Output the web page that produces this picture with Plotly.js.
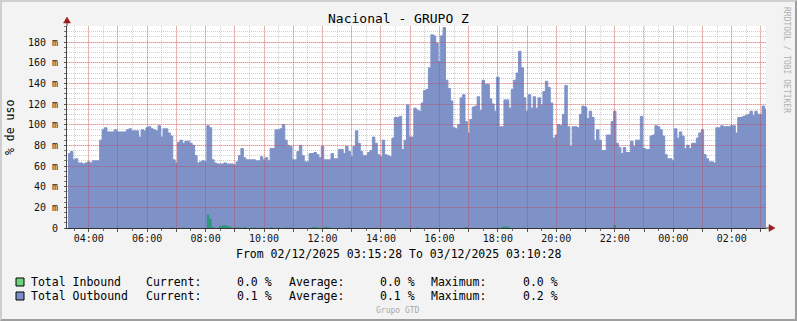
<!DOCTYPE html>
<html><head><meta charset="utf-8">
<script src="https://cdn.plot.ly/plotly-3.0.1.min.js"></script>
<style>
html,body{margin:0;padding:0;background:#f3f3f3;}
#wrap{position:relative;width:797px;height:321px;overflow:hidden;}
#chart{position:absolute;left:0;top:0;width:797px;height:321px;}
#frame{position:absolute;left:0;top:0;width:797px;height:321px;box-sizing:border-box;border:2px solid;border-color:#cfcfcf #9e9e9e #9e9e9e #cfcfcf;pointer-events:none;}
</style></head><body>
<div id="wrap"><div id="chart"></div><div id="frame"></div></div>
<script>
// ---------- data (5-minute samples, 02/12/2025 03:20 -> 03/12/2025 03:10), values in milli-% ----------
const chartTitle = 'Nacional - GRUPO Z';
const yAxisTitle = '% de uso';
const periodText = 'From 02/12/2025 03:15:28 To 03/12/2025 03:10:28';
const seriesNames = ['Total Inbound', 'Total Outbound'];
const currentVals = ['0.0 %', '0.1 %'];
const averageVals = ['0.0 %', '0.1 %'];
const maximumVals = ['0.0 %', '0.2 %'];
const watermark = 'RRDTOOL / TOBI OETIKER';
const footer = 'Grupo GTD';

const outbound = [
  72,74,66,67,63,63,62,63,                              // 03:20-03:55
  64,63,65,65,65,85,95,97,93,93,93,95,                  // 04
  93,93,93,93,95,96,94,94,94,88,95,94,                  // 05
  97,98,96,95,94,99,88,96,96,92,89,66,                  // 06
  63,83,85,82,84,84,82,80,70,63,64,65,                  // 07
  64,99,97,66,63,62,62,62,63,62,62,62,                  // 08
  61,64,70,77,68,66,66,66,66,65,65,69,                  // 09
  66,68,65,77,77,95,95,96,100,85,80,79,                 // 10
  66,66,74,80,70,64,64,72,72,73,71,68,                  // 11
  79,66,66,66,72,67,67,76,76,72,79,74,                  // 12
  69,79,94,82,74,70,70,73,75,88,82,71,                  // 13
  69,85,71,70,69,87,107,107,108,76,85,119,              // 14
  88,88,116,114,113,121,133,134,155,187,186,179,        // 15
  161,186,194,143,135,123,97,96,100,126,129,103,        // 16
  92,105,117,118,127,114,143,139,139,125,120,113,       // 17
  146,98,98,124,124,116,134,143,150,171,155,126,        // 18
  113,129,116,127,116,126,119,132,142,136,121,87,       // 19
  90,100,99,110,138,98,79,98,98,97,110,118,             // 20
  117,106,113,107,85,95,85,75,75,90,90,103,             // 21
  113,82,78,72,78,73,73,84,79,85,85,108,                // 22
  77,76,76,89,90,99,98,95,89,71,67,67,                  // 23
  65,96,87,93,89,77,80,77,82,82,87,92,                  // 00
  95,71,67,64,64,63,97,97,99,98,98,98,                  // 01
  99,99,92,107,107,108,109,110,113,109,113,110,         // 02
  110,118,115                                           // 03:00-03:10
];
const inbound = [
  0,0,0,0,0,0,0,0,
  0,0,0,0,0,0,0,0,0,0,0,0,
  0,0,0,0,0,0,0,0,0,0,0,0,
  0,0,0,0,0,0,0,0,0,0,0.8,0,
  0,0,0,0.5,0,0,0,0,0,0,0,0,
  0,13,9,1,0,0,2,2.5,3,2,1.5,0,
  0.5,0.8,0.5,0,1,0,0,0,0.8,0,0,0.5,
  0,0,0,1,0,0,0.5,0,0,0.8,0,0.5,
  0,0,0,0,0,0,0,0,1,1,0.5,0,
  0,1,1,0.8,0,0,0,0,0,0,0,0.5,
  0,0,0,0,0,0,0,0,0,0,0,0,
  0,0,0,0,0,0,0,0,0,0,0,0,
  0,0,0,1,0,0,0,0,0,0,0,0,
  0,0,0,0,0,0,0,0,0,0,0,1,
  0,0,0,0,0,0,0,0,0,0,0,0,
  0,0,1.5,1.5,1.5,0,0,0,0,0,0,0,
  0,0,0,0,0,0,0,0,0,0,0,0,
  0,0,0,0,0,0,0,0,0,0,0,0,
  0,0,0,0,0,0,0,0,0,0,0,0,
  3,0,0,0,0,0,0,0,0,0,0,0,
  0,0,0,0,0,0,0,0,0,0,0,0,
  0,0,0,0,0,0,0,0,0,0,0,0,
  0,0,0,0,0,0,0,0,0,0,0,0,
  0,0,0,0,0,0,0,0,0,0,0,0,
  0,0,0
];
const yTickVals = [0,20,40,60,80,100,120,140,160,180];
const yTickText = ['0','20 m','40 m','60 m','80 m','100 m','120 m','140 m','160 m','180 m'];

// ---------- time axis ----------
const stepMs = 5*60*1000;
const firstSample = Date.UTC(2025,11,2,3,17,30);   // centre-aligned 5-min steps
const rangeStartMs = Date.UTC(2025,11,2,3,15,28);
const rangeEndMs = Date.UTC(2025,11,3,3,10,28);
const fmt = ms => new Date(ms).toISOString().replace('T',' ').slice(0,19);

const xs = outbound.map((_, i) => fmt(firstSample + i*stepMs));
xs.push(fmt(rangeEndMs));
const outY = outbound.concat([outbound[outbound.length-1]]);
const inY = inbound.concat([inbound[inbound.length-1]]);

const hourMs = [], hourVals = [], hourText = [];
for (let t = Date.UTC(2025,11,2,4); t <= rangeEndMs; t += 3600000) {
  hourMs.push(t);
  hourVals.push(fmt(t));
  const h = new Date(t).getUTCHours();
  hourText.push(h % 2 === 0 ? String(h).padStart(2,'0') + ':00' : '');
}
const xRange = [fmt(rangeStartMs), fmt(rangeEndMs)];
const yRange = [0, 195.5];

// ---------- geometry helpers ----------
const W = 797, H = 321, ML = 67, MR = 31, MT = 26, MB = 93;
const PW = W - ML - MR, PH = H - MT - MB;
const PX = x => (x - ML) / PW;
const PY = y => (MT + PH - y) / PH;
const snap = p => Math.floor(p) + 0.5;
const timeToPx = ms => ML + (ms - rangeStartMs) / (rangeEndMs - rangeStartMs) * PW;
const valToPx = v => MT + PH * (1 - (v - yRange[0]) / (yRange[1] - yRange[0]));

const MONO = 'DejaVu Sans Mono, monospace';
const GREY_GRID = 'rgba(110,110,110,0.33)';
const RED_LINE = {color:'rgba(235,20,20,0.24)', width:1};
const ARROW = '#9b1c1c';

const shapes = [];
// major (red) grid drawn above the areas as pixel paths
hourMs.forEach(t => shapes.push({type:'path', xref:'paper', yref:'paper', xsizemode:'pixel', ysizemode:'pixel',
  xanchor:PX(snap(timeToPx(t))), yanchor:0, path:'M0,0 L0,' + PH, line:RED_LINE, layer:'above'}));
yTickVals.slice(1).forEach(v => shapes.push({type:'path', xref:'paper', yref:'paper', xsizemode:'pixel', ysizemode:'pixel',
  xanchor:0, yanchor:PY(snap(valToPx(v))), path:'M0,0 L' + PW + ',0', line:RED_LINE, layer:'above'}));
// axis extensions and arrows
shapes.push({type:'path', xref:'paper', yref:'paper', xsizemode:'pixel', ysizemode:'pixel', xanchor:0, yanchor:1,
  path:'M0,0 L0,4', line:{color:'#444', width:1}, layer:'above'});
shapes.push({type:'path', xref:'paper', yref:'paper', xsizemode:'pixel', ysizemode:'pixel', xanchor:0, yanchor:1,
  path:'M-3.5,3 L3.5,3 L0,9 Z', fillcolor:ARROW, line:{color:ARROW, width:0.5}, layer:'above'});
shapes.push({type:'path', xref:'paper', yref:'paper', xsizemode:'pixel', ysizemode:'pixel', xanchor:1, yanchor:0,
  path:'M0,0 L4,0', line:{color:'#333', width:1}, layer:'above'});
shapes.push({type:'path', xref:'paper', yref:'paper', xsizemode:'pixel', ysizemode:'pixel', xanchor:1, yanchor:0,
  path:'M3,-3.5 L3,3.5 L9,0 Z', fillcolor:ARROW, line:{color:ARROW, width:0.5}, layer:'above'});
// legend colour boxes
const boxColors = ['#6cd27c', '#7b8fc8'];
[278, 292].forEach((y, i) => shapes.push({type:'rect', xref:'paper', yref:'paper',
  x0:PX(16), x1:PX(24), y0:PY(y+8), y1:PY(y), fillcolor:boxColors[i], line:{color:'#000', width:1}}));

const annotations = [];
const txt = (text, x, y, opts={}) => annotations.push(Object.assign({
  text, x:PX(x), y:PY(y), xref:'paper', yref:'paper', showarrow:false,
  xanchor:'left', yanchor:'middle', font:{family:MONO, size:11.5, color:'#000'}, borderpad:0}, opts));

txt(chartTitle, 398, 19, {xanchor:'center', font:{family:MONO, size:13, color:'#000'}});
txt(yAxisTitle, 10, 128, {xanchor:'center', textangle:-90});
txt(watermark, 787, 60, {xanchor:'center', textangle:90, font:{family:MONO, size:8, color:'#b0b0b0'}});
txt(periodText, 235, 254);
[282, 296].forEach((y, i) => {
  txt(seriesNames[i], 30, y);
  txt('Current:', 145, y);
  txt(currentVals[i], 236, y);
  txt('Average:', 287.5, y);
  txt(averageVals[i], 378.5, y);
  txt('Maximum:', 430, y);
  txt(maximumVals[i], 521.5, y);
});
txt(footer, 398, 310, {xanchor:'center', font:{family:MONO, size:8, color:'#a8a8a8'}});

const traces = [
  {x:xs, y:outY, type:'scatter', mode:'lines', line:{shape:'hv', color:'#7e92c8', width:1},
   fill:'tozeroy', fillcolor:'#7e92c8', name:seriesNames[1], hoverinfo:'skip'},
  {x:xs, y:inY, type:'scatter', mode:'lines', line:{shape:'hv', color:'#2f977c', width:0},
   fill:'tozeroy', fillcolor:'#2f977c', name:seriesNames[0], hoverinfo:'skip'}
];

const layout = {
  width:W, height:H, margin:{l:ML, r:MR, t:MT, b:MB, pad:0},
  paper_bgcolor:'#f3f3f3', plot_bgcolor:'#ffffff', showlegend:false,
  font:{family:MONO, size:10, color:'#111'},
  xaxis:{type:'date', range:xRange, tickmode:'array', tickvals:hourVals, ticktext:hourText,
    showgrid:false, zeroline:false, showline:true, linecolor:'#333', linewidth:1, layer:'above traces',
    ticks:'outside', ticklen:3, tickcolor:'#555', tickfont:{family:MONO, size:10, color:'#111'}, ticklabelstandoff:-2,
    minor:{tick0:'2025-12-02 03:30:00', dtick:1800000, showgrid:true, gridcolor:GREY_GRID, griddash:'1px,1px',
      ticks:'outside', ticklen:2, tickcolor:'#777'}},
  yaxis:{range:yRange, tickmode:'array', tickvals:yTickVals, ticktext:yTickText,
    showgrid:false, zeroline:false, showline:true, linecolor:'#444', linewidth:1, layer:'above traces',
    ticks:'outside', ticklen:2, tickcolor:'#555', tickfont:{family:MONO, size:10, color:'#111'}, ticklabelstandoff:4,
    minor:{tick0:0, dtick:5, showgrid:true, gridcolor:GREY_GRID, griddash:'1px,1px',
      ticks:'outside', ticklen:2, tickcolor:'#777'}},
  shapes, annotations
};

Plotly.newPlot('chart', traces, layout, {staticPlot:true, displayModeBar:false});
</script>
</body></html>
